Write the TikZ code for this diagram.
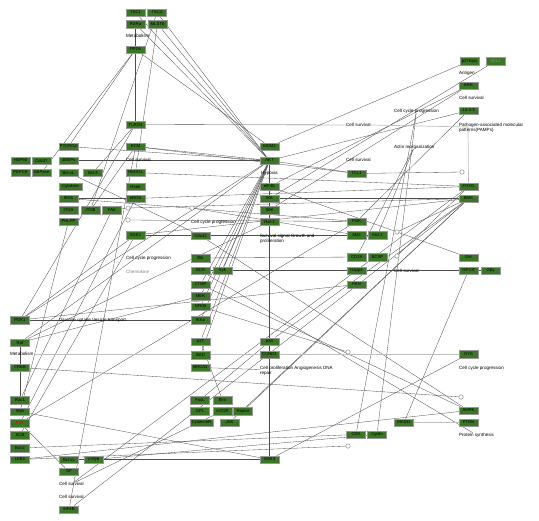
\documentclass[tikz,border=0pt]{standalone}
\usepackage{fontspec}
\setmainfont{Liberation Sans}
\usetikzlibrary{backgrounds}
\definecolor{genegreen}{RGB}{58,118,38}
\tikzset{
  gene/.style={draw=black!40, fill=genegreen, minimum width=0.95cm, minimum height=0.37cm, inner sep=0.5pt, font=\fontsize{6}{6.5}\selectfont},
  lbl/.style={anchor=west, inner sep=0pt, font=\fontsize{6.5}{7}\selectfont},
  lbltwo/.style={anchor=north west, inner sep=0pt, align=left, font=\fontsize{6.5}{7}\selectfont},
  link/.style={draw=black!70, line width=0.45pt},
  gline/.style={draw=black!25, line width=1pt},
  tipc/.style={circle, draw=black!65, fill=white, inner sep=0pt, minimum size=0.22cm},
}
\begin{document}
\begin{tikzpicture}[x=0.05cm, y=-0.05cm]
  \useasboundingbox (0,0) rectangle (539,520);
  % gene boxes: name/label/x/y (pixel grid)
  \foreach \n/\t/\x/\y in {tsc1/TSC1/135.5/12.5, tsc2/TSC2/157/12.5, rxra/RXRa/135.5/24, mlst/MLST8/157.5/24,
      pp2a/PP2A/135.5/49.5, tlr/{TLR2/4}/135.5/124.5, ptcrg/PTCRG2/68.5/146.5, ecm/ECM/135.5/146.5,
      hsp/HSP90/20.5/160.5, cdc37/Cdc37/41.5/160.5, ebp/4EBPs/68.5/160.5,
      pepck/PEPCK/20.5/172.5, g6p/G6Pase/41.5/172.5, bclxla/Bcl-xL/68.5/172.5, bcl2a/Bcl-2/93/172.5, redd/REDD1/135.5/172.5,
      rheb/Rheb/135.5/186.5, irs/IRS1/68.5/198.5, enos/eNOS/135.5/198.5,
      itga/ITGA/68.5/210, itgb/ITGB/90.5/210, fak/FAK/112/210, phlpp/PHLPP/68.5/221.5, sgk/SGK1/135.5/235,
      pdk/PDK1/20/320, raf/Raf/20/342.5, creb/CREB/20/367.5, rac/Rac1/20/400, myb/Myb/20/411.5,
      sos/SOS/20/435, bcl2b/Bcl-2/20/448, lkb/LKB1/20/459.5,
      bclxlb/Bcl-xL/69/459.5, cmyb/c-Myb/93.5/459.5, gf/GF/69/471.5, eif4b/eIF4B/69/509.5,
      mdm/MDM2/269.5/146.5, akt/AKT/269.5/160.5, eif4e/eIF4E/269.5/186.5, ikk/IKK/269.5/198.5,
      gsk/S6K/269.5/210, raf1/Raf-1/269.5/221.5,
      cdc/Cdc42/200.5/235.5, btk/Btk/200.5/258, bcr/BCR/200.5/270.5, syk/Syk/222.5/270.5,
      ctmp/CTMP/200.5/284.5, mek/MEK/200.5/296, nfkb/NFKB/200.5/306.5, ikka/IKKa/200.5/320,
      p27/p27/200.5/341.5, bad/BAD/200.5/355, brca/BRCA1/200.5/367.5,
      fasl/FasL/200/400, bim/Bim/222.5/400, gpl/GPL/200/411, mtor/mTOR/222.5/411, raptor/Raptor/243/411,
      jak/JAK/229.5/422.5, p53/p53/269.5/341.5, ccnd/CCND1/269.5/354.5, gsk3/GSK3/269.5/459.5,
      tcl/TCL1/356.5/173.5, pi3k/PI3K/356.5/221.5, akt2/Akt2/356.5/235, mcl/Mcl-1/377.5/235,
      cd19/CD19/356.5/257, bcap/BCAP/377.5/257, dapp/Dapp1/356.5/270.5, pkn/PKN/356.5/284.5,
      cdk/CDK/356/434.5, cyclin/Cyclin/377/434.5, magi/MAGI1/404/422.5,
      p27k/p27Kip1/469.5/61, erk/ERK/468.5/85.5, f1433/14-3-3/468.5/110.5,
      foxo/FOXO/468.5/186.5, bmk/BMK/468.5/198.5, gh/GH/468.5/257.5, gpcr/GPCR/468.5/270.5,
      gbg/Gβγ/490.5/270.5, gys/GYS/468.5/354, ampk/AMPK/468.5/410.5, pten/PTEN/468.5/422.5}
    {\node[gene] (\n) at (\x,\y) {\t};}
  \node[gene, text=red] (rtk) at (20,423) {RTK};
  \node[gene, text=black!45] (skl) at (495.5,61) {SKL2};
  \node[gene, minimum width=1.15cm] (cyto) at (70.5,186.5) {Cytokine};
  \node[gene, minimum width=1.15cm] (cytor) at (201.5,422.5) {CytokineR};

  % process labels
  \node[lbl] (lmetaA) at (126,36) {Metabolism};
  \node[lbl] (lcs1) at (126,160) {Cell survival};
  \node[lbl] (lccpA) at (126,258) {Cell cycle progression};
  \node[lbl, text=black!50] (lchem) at (126,272) {Chemokine};
  \node[lbl] (lglu) at (59,320) {Glucose uptake Vesicle transport};
  \node[lbl] (lmetaB) at (10,354) {Metabolism};
  \node[lbl] (lcsB) at (59,484) {Cell survival};
  \node[lbl] (lcsC) at (59,497) {Cell survival};
  \node[lbl] (lccpB) at (191,222) {Cell cycle progression};
  \node[lbl, anchor=center] (lhyp) at (269.5,173) {Hypoxia};
  \node[lbltwo] (lsurv) at (260,234) {Survival signal Growth and\\proliferation};
  \node[lbltwo] (lcell) at (260,366) {Cell proliferation Angiogenesis DNA\\repair};
  \node[lbl] (lcsA) at (346,125) {Cell survival};
  \node[lbl] (lcsD) at (346,160) {Cell survival};
  \node[lbl] (lccpC) at (394,111) {Cell cycle progression};
  \node[lbl] (lactin) at (394,147) {Actin reorganization};
  \node[lbl] (lanti) at (459,73) {Antigen};
  \node[lbl] (lcsE) at (459,98) {Cell survival};
  \node[lbltwo] (lpamp) at (459,123) {Pathogen-associated molecular\\patterns(PAMPs)};
  \node[lbl] (lcsF) at (394,270.5) {Cell survival};
  \node[lbl] (lccpD) at (459,368) {Cell cycle progression};
  \node[lbl] (lprot) at (459,435) {Protein synthesis};

  % open circle ends
  \foreach \n/\x/\y in {o1/128/208, o2/128/220, o3/192/208, o4/462/172, o5/397/232,
      o6/397/256, o7/461/397, o8/348/446, o9/348/352}
    {\node[tipc] (\n) at (\x,\y) {};}

  \begin{scope}[on background layer]
    \foreach \a/\b in {tsc1/akt, tsc2/akt, rxra/akt, mlst/akt, pp2a/mdm, rxra/tlr, mlst/redd, tsc2/itgb,
        pp2a/g6p, pp2a/ptcrg, tlr/lcsA, ptcrg/akt, ebp/akt, ecm/tcl, ecm/akt, tlr/bcl2a, tlr/pdk, ecm/itgb,
        bclxla/cdc, irs/enos, irs/pi3k, fak/o1, bmk/o1, pi3k/o2, akt2/o3, tcl/o4, bmk/o5, foxo/o6,
        creb/o7, lkb/o8, nfkb/o9, pdk/akt, pdk/sgk, pdk/pkn, pdk/ikka, raf/mek, raf/rac, rac/fak,
        myb/gsk3, rtk/gf, rtk/pi3k, bcl2b/cdk, lkb/ampk, bclxlb/gsk3, cmyb/cyclin, eif4b/bmk, eif4b/ecm,
        lcsB/foxo, akt/bad, akt/p27, akt/ikka, akt/ctmp, akt/syk, akt/nfkb, akt/mek, bcr/syk, syk/dapp,
        dapp/gpcr, gpcr/gbg, gpcr/magi, brca/lcell, fasl/p53, bim/p27, jak/bmk, mtor/raptor, mtor/lcsB,
        mdm/p27k, skl/ikk, erk/eif4e, erk/gsk, f1433/akt, f1433/pi3k, lccpC/cdk, lccpC/cyclin,
        lactin/cd19, lactin/mcl, enos/foxo, ikk/bmk, redd/foxo, raptor/bmk, p53/bmk, gh/eif4e,
        gsk3/gys, cdc/ampk, ctmp/ampk, bcr/lprot, akt/tcl, akt/gsk3, sgk/mcl, bmk/sgk, raf1/raf, cd19/btk,
        sos/sgk, rtk/enos, myb/phlpp, raf/akt}
      {\draw[link] (\a) -- (\b);}
    \draw[gline] (lmetaB.east) -- (gys.west);
    \draw[gline] (magi) -- (pten);
    \draw[gline] (lcsA.east) -- (468,127) -- (foxo.north);
  \end{scope}
\end{tikzpicture}
\end{document}
